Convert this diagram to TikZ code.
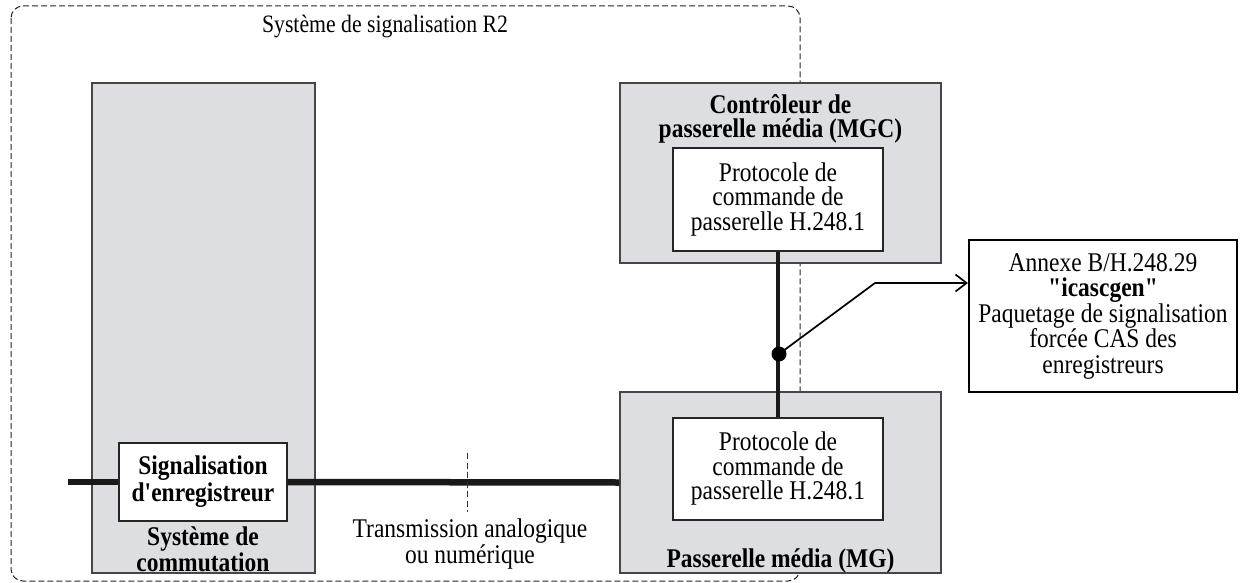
\documentclass[tikz,border=0pt]{standalone}
\usepackage{fontspec}
\setmainfont{Liberation Serif}[FakeStretch=0.87, Ligatures=TeXOff]
\usetikzlibrary{arrows.meta}
\definecolor{boxgray}{RGB}{221,222,225}
\definecolor{edgegray}{RGB}{70,70,70}
\begin{document}
\begin{tikzpicture}[x=1pt,y=-1pt,
  txt/.style={font=\fontsize{27}{24.5}\selectfont, align=center, inner sep=0pt},
  btxt/.style={txt, font=\fontsize{27}{24.5}\selectfont\bfseries},
  graybox/.style={draw=edgegray, line width=1.3pt, fill=boxgray, inner sep=0pt},
  whitebox/.style={draw=black!85, line width=1.3pt, fill=white, inner sep=0pt, font=\fontsize{27}{24.5}\selectfont, align=center},
  outer/.style={draw=black!85, line width=1pt, dash pattern=on 6pt off 3pt, rounded corners=12pt},
  trunk/.style={line width=6.5pt, black!90},
  link/.style={line width=3.3pt, black!90},
  pointer/.style={line width=1.7pt, -{Straight Barb[length=11pt,width=17pt,line width=1.7pt]}}
]
\useasboundingbox (0,0) rectangle (1241,583);
% outer system boundary
\draw[outer] (11,6) rectangle (800,581);
\node[txt, font=\fontsize{25}{24}\selectfont] (title) at (385,27) {Système de signalisation R2};

% switching system
\node[graybox, minimum width=223pt, minimum height=490pt] (sc) at (203.5,328) {};
\node[btxt] (sclab) at (203,549) {Système de\\commutation};

% media gateway controller
\node[graybox, minimum width=321pt, minimum height=180pt] (mgc) at (780.5,173) {};
\node[btxt] (mgclab) at (780.5,119) {Contrôleur de\\passerelle média (MGC)};
\node[whitebox, minimum width=210pt, minimum height=103pt] (pc1) at (778,199.5)
  {Protocole de\\commande de\\passerelle H.248.1};

% media gateway
\node[graybox, minimum width=321pt, minimum height=181pt] (mg) at (780.5,482.5) {};
\node[btxt] (mglab) at (780.5,561) {Passerelle média (MG)};
\node[whitebox, minimum width=210pt, minimum height=102pt] (pc2) at (778,469)
  {Protocole de\\commande de\\passerelle H.248.1};

% trunk line
\coordinate (in) at (68,482);
\node[whitebox, minimum width=168pt, minimum height=78pt, font=\fontsize{27}{27}\selectfont\bfseries] (sig) at (203,482)
  {Signalisation\\d'enregistreur};
\draw[trunk] (in) -- (sig.west);
\draw[trunk] (sig.east) -- (mg.west);

% transmission marker
\coordinate (d1) at (467,453);
\coordinate (d2) at (467,512);
\draw[black!80, line width=1pt, dash pattern=on 6pt off 3.5pt] (d1) -- (d2);
\node[txt, font=\fontsize{27}{25}\selectfont] (tx) at (470,544) {Transmission analogique\\ou numérique};

% control link
\draw[link] (pc1.south) -- (pc2.north);
\coordinate (dot) at (779,354);
\fill[black] (dot) circle (7.5pt);

% annex box
\node[draw=black, line width=2.2pt, minimum width=268pt, minimum height=152pt, inner sep=0pt, align=center,
  font=\fontsize{27}{25.5}\selectfont] (ann) at (1103,316)
  {Annexe B/H.248.29\\\textbf{"icascgen"}\\Paquetage de signalisation\\forcée CAS des\\enregistreurs};
\coordinate (elbow) at (875,283);
\draw[pointer] (dot) -- (elbow) -- (elbow -| ann.west);
\end{tikzpicture}
\end{document}
